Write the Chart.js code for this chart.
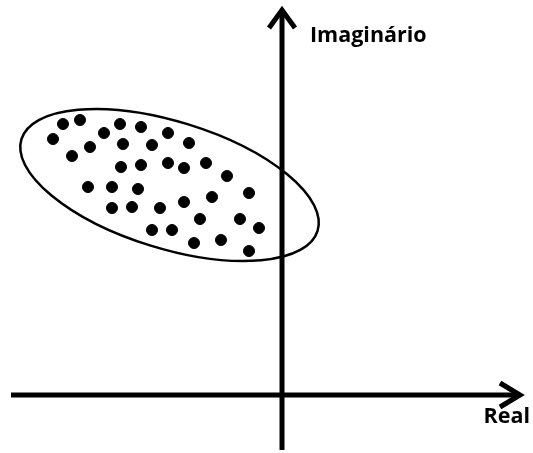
<!DOCTYPE html>
<html>
<head>
<meta charset="utf-8">
<script src="https://cdn.jsdelivr.net/npm/chart.js@4/dist/chart.umd.min.js"></script>
<style>
  body { margin: 0; background: #fff; }
  canvas { display: block; }
</style>
</head>
<body>
<canvas id="myChart" width="533" height="453"></canvas>
<script>
// points in the complex plane (real, imaginary)
const realParts = [-21.9, -20.2, -22.9, -17.8, -16.2, -14.1, -11.4, -19.2, -15.9, -13.0,
                   -21.0, -16.1, -14.1, -11.4, -19.4, -17.0, -14.4, -17.0, -15.0, -12.2,
                   -13.0, -11.0, -9.3, -9.8, -7.6, -5.5, -3.3, -7.0, -9.8, -8.2,
                   -4.2, -2.3, -8.8, -6.1, -3.3];
const imagParts = [27.1, 27.5, 25.6, 26.2, 27.1, 26.8, 26.2, 24.8, 25.1, 25.0,
                   23.9, 22.8, 23.0, 23.2, 20.8, 20.8, 20.6, 18.7, 18.8, 18.7,
                   16.5, 16.5, 25.2, 22.7, 23.2, 21.9, 20.2, 19.8, 19.3, 17.6,
                   17.6, 16.7, 15.2, 15.5, 14.4];

// cluster outline: center, semi axes, tilt (degrees)
const clusterCenter = [-11.25, 21.0];
const clusterAxes = [15.5, 6.35];
const clusterTilt = -17.2;

// axis extents
const realAxis = [-27.1, 24.0];
const imagAxis = [-5.5, 38.7];
const axisLabels = ["Real", "Imaginário"];

const points = realParts.map((x, i) => ({x: x, y: imagParts[i]}));

const drawExtras = {
    id: 'drawExtras',
    afterDatasetsDraw(chart) {
        const ctx = chart.ctx;
        const xs = chart.scales.x, ys = chart.scales.y;
        ctx.save();
        // ellipse around the cluster
        const cx = xs.getPixelForValue(clusterCenter[0]);
        const cy = ys.getPixelForValue(clusterCenter[1]);
        const rx = xs.getPixelForValue(clusterCenter[0] + clusterAxes[0]) - cx;
        const ry = cy - ys.getPixelForValue(clusterCenter[1] + clusterAxes[1]);
        ctx.beginPath();
        ctx.ellipse(cx, cy, rx, ry, -clusterTilt * Math.PI / 180, 0, Math.PI * 2);
        ctx.lineWidth = 2.5;
        ctx.strokeStyle = '#000';
        ctx.stroke();

        // arrow heads
        ctx.lineWidth = 5;
        ctx.lineJoin = 'miter';
        ctx.lineCap = 'butt';
        const tx = xs.getPixelForValue(realAxis[1]);
        const ty0 = ys.getPixelForValue(0);
        ctx.beginPath();
        ctx.moveTo(tx - 22, ty0 - 12);
        ctx.lineTo(tx - 2, ty0);
        ctx.lineTo(tx - 22, ty0 + 12);
        ctx.stroke();
        const ux = xs.getPixelForValue(0);
        const uy = ys.getPixelForValue(imagAxis[1]);
        ctx.beginPath();
        ctx.moveTo(ux - 13, uy + 20);
        ctx.lineTo(ux, uy + 2);
        ctx.lineTo(ux + 13, uy + 20);
        ctx.stroke();

        // labels
        ctx.fillStyle = '#000';
        ctx.font = 'bold 21.5px "Open Sans"';
        ctx.textBaseline = 'alphabetic';
        ctx.textAlign = 'right';
        ctx.fillText(axisLabels[0], xs.getPixelForValue(24.8), ys.getPixelForValue(-2.8));
        ctx.textAlign = 'left';
        ctx.fillText(axisLabels[1], xs.getPixelForValue(2.8), ys.getPixelForValue(35.3));
        ctx.restore();
    }
};

new Chart(document.getElementById('myChart').getContext('2d'), {
    type: 'scatter',
    data: {
        datasets: [{
            data: points,
            backgroundColor: '#000',
            borderColor: '#000',
            pointRadius: 5.5,
            pointHoverRadius: 5.5,
            showLine: false
        }, {
            type: 'line',
            data: [{x: realAxis[0], y: 0}, {x: realAxis[1] - 0.3, y: 0}],
            borderColor: '#000',
            borderWidth: 5,
            pointRadius: 0,
            showLine: true,
            fill: false
        }, {
            type: 'line',
            data: [{x: 0, y: imagAxis[0]}, {x: 0, y: imagAxis[1] - 0.3}],
            borderColor: '#000',
            borderWidth: 5,
            pointRadius: 0,
            showLine: true,
            fill: false
        }]
    },
    options: {
        responsive: false,
        animation: false,
        layout: {padding: 0, autoPadding: false},
        plugins: {
            legend: {display: false},
            tooltip: {enabled: false}
        },
        scales: {
            x: {type: 'linear', min: -28.2, max: 25.1, display: false},
            y: {type: 'linear', min: -5.8, max: 39.5, display: false}
        }
    },
    plugins: [drawExtras]
});
</script>
</body>
</html>
